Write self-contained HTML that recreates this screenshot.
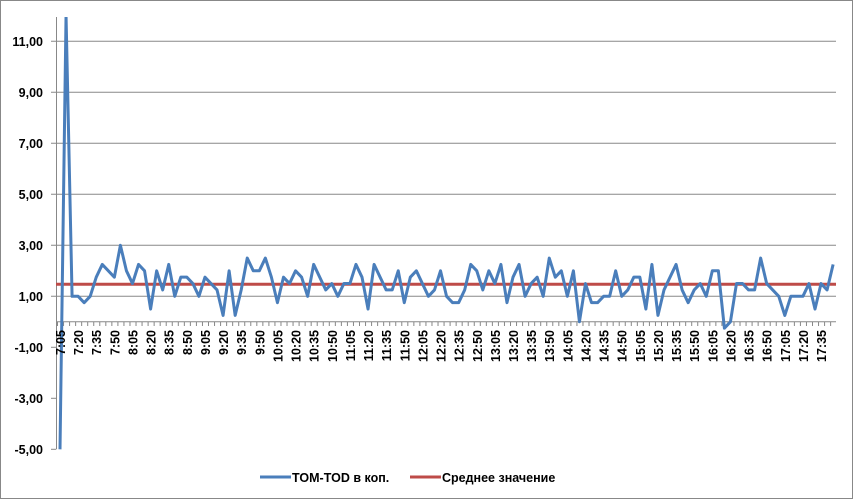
<!DOCTYPE html>
<html><head><meta charset="utf-8"><style>
body{margin:0;background:#fff}
svg{display:block}
text{font-family:"Liberation Sans",sans-serif;font-weight:bold;fill:#000}
</style></head><body>
<svg width="855" height="501" viewBox="0 0 855 501" xmlns="http://www.w3.org/2000/svg">
<rect x="0.5" y="0.5" width="852" height="498" fill="#fff" stroke="#888"/>
<defs><clipPath id="c"><rect x="56" y="17" width="782" height="440"/></clipPath></defs>
<g stroke="#888" stroke-width="1">
<line x1="51" y1="41.3" x2="836" y2="41.3"/>
<line x1="51" y1="92.3" x2="836" y2="92.3"/>
<line x1="51" y1="143.3" x2="836" y2="143.3"/>
<line x1="51" y1="194.3" x2="836" y2="194.3"/>
<line x1="51" y1="245.3" x2="836" y2="245.3"/>
<line x1="51" y1="296.3" x2="836" y2="296.3"/>
<line x1="51" y1="347.3" x2="56" y2="347.3"/>
<line x1="51" y1="398.3" x2="56" y2="398.3"/>
<line x1="51" y1="449.3" x2="56" y2="449.3"/>
<line x1="56.5" y1="17" x2="56.5" y2="449.3"/>
<line x1="56" y1="321.8" x2="836" y2="321.8"/>
<line x1="57" y1="324" x2="836" y2="324" stroke-width="4" stroke-dasharray="1 5.04"/>
</g>
<g font-size="12.5" text-anchor="end">
<text x="43" y="46">11,00</text>
<text x="43" y="97">9,00</text>
<text x="43" y="148">7,00</text>
<text x="43" y="199">5,00</text>
<text x="43" y="250">3,00</text>
<text x="43" y="301">1,00</text>
<text x="43" y="352">-1,00</text>
<text x="43" y="403">-3,00</text>
<text x="43" y="454">-5,00</text>
</g>
<line x1="56" y1="284.3" x2="836" y2="284.3" stroke="#be4b48" stroke-width="3"/>
<g clip-path="url(#c)">
<polyline fill="none" stroke="#4a7ebb" stroke-width="3" stroke-linejoin="round" vector-effect="non-scaling-stroke" transform="translate(60,321.8) scale(6.04,-25.5)" points="0,-5 1,12 2,1 3,1 4,.75 5,1 6,1.75 7,2.25 8,2 9,1.75 10,3 11,2 12,1.5 13,2.25 14,2 15,.5 16,2 17,1.25 18,2.25 19,1 20,1.75 21,1.75 22,1.5 23,1 24,1.75 25,1.5 26,1.25 27,.25 28,2 29,.25 30,1.25 31,2.5 32,2 33,2 34,2.5 35,1.75 36,.75 37,1.75 38,1.5 39,2 40,1.75 41,1 42,2.25 43,1.75 44,1.25 45,1.5 46,1 47,1.5 48,1.5 49,2.25 50,1.75 51,.5 52,2.25 53,1.75 54,1.25 55,1.25 56,2 57,.75 58,1.75 59,2 60,1.5 61,1 62,1.25 63,2 64,1 65,.75 66,.75 67,1.25 68,2.25 69,2 70,1.25 71,2 72,1.5 73,2.25 74,.75 75,1.75 76,2.25 77,1 78,1.5 79,1.75 80,1 81,2.5 82,1.75 83,2 84,1 85,2 86,0 87,1.5 88,.75 89,.75 90,1 91,1 92,2 93,1 94,1.25 95,1.75 96,1.75 97,.5 98,2.25 99,.25 100,1.25 101,1.75 102,2.25 103,1.25 104,.75 105,1.25 106,1.5 107,1 108,2 109,2 110,-.25 111,0 112,1.5 113,1.5 114,1.25 115,1.25 116,2.5 117,1.5 118,1.25 119,1 120,.25 121,1 122,1 123,1 124,1.5 125,.5 126,1.5 127,1.25 128,2.25"/>
</g>
<g font-size="12.5" text-anchor="end">
<text transform="translate(65,330) rotate(-90)">7:05</text>
<text transform="translate(83.1,330) rotate(-90)">7:20</text>
<text transform="translate(101.2,330) rotate(-90)">7:35</text>
<text transform="translate(119.4,330) rotate(-90)">7:50</text>
<text transform="translate(137.5,330) rotate(-90)">8:05</text>
<text transform="translate(155.6,330) rotate(-90)">8:20</text>
<text transform="translate(173.7,330) rotate(-90)">8:35</text>
<text transform="translate(191.8,330) rotate(-90)">8:50</text>
<text transform="translate(210,330) rotate(-90)">9:05</text>
<text transform="translate(228.1,330) rotate(-90)">9:20</text>
<text transform="translate(246.2,330) rotate(-90)">9:35</text>
<text transform="translate(264.3,330) rotate(-90)">9:50</text>
<text transform="translate(282.4,330) rotate(-90)">10:05</text>
<text transform="translate(300.6,330) rotate(-90)">10:20</text>
<text transform="translate(318.7,330) rotate(-90)">10:35</text>
<text transform="translate(336.8,330) rotate(-90)">10:50</text>
<text transform="translate(354.9,330) rotate(-90)">11:05</text>
<text transform="translate(373,330) rotate(-90)">11:20</text>
<text transform="translate(391.2,330) rotate(-90)">11:35</text>
<text transform="translate(409.3,330) rotate(-90)">11:50</text>
<text transform="translate(427.4,330) rotate(-90)">12:05</text>
<text transform="translate(445.5,330) rotate(-90)">12:20</text>
<text transform="translate(463.6,330) rotate(-90)">12:35</text>
<text transform="translate(481.8,330) rotate(-90)">12:50</text>
<text transform="translate(499.9,330) rotate(-90)">13:05</text>
<text transform="translate(518,330) rotate(-90)">13:20</text>
<text transform="translate(536.1,330) rotate(-90)">13:35</text>
<text transform="translate(554.2,330) rotate(-90)">13:50</text>
<text transform="translate(572.4,330) rotate(-90)">14:05</text>
<text transform="translate(590.5,330) rotate(-90)">14:20</text>
<text transform="translate(608.6,330) rotate(-90)">14:35</text>
<text transform="translate(626.7,330) rotate(-90)">14:50</text>
<text transform="translate(644.8,330) rotate(-90)">15:05</text>
<text transform="translate(663,330) rotate(-90)">15:20</text>
<text transform="translate(681.1,330) rotate(-90)">15:35</text>
<text transform="translate(699.2,330) rotate(-90)">15:50</text>
<text transform="translate(717.3,330) rotate(-90)">16:05</text>
<text transform="translate(735.4,330) rotate(-90)">16:20</text>
<text transform="translate(753.6,330) rotate(-90)">16:35</text>
<text transform="translate(771.7,330) rotate(-90)">16:50</text>
<text transform="translate(789.8,330) rotate(-90)">17:05</text>
<text transform="translate(807.9,330) rotate(-90)">17:20</text>
<text transform="translate(826,330) rotate(-90)">17:35</text>
</g>
<line x1="260" y1="477" x2="291" y2="477" stroke="#4a7ebb" stroke-width="3"/>
<text x="292" y="482" font-size="12.5">TOM-TOD в коп.</text>
<line x1="410" y1="477" x2="441" y2="477" stroke="#be4b48" stroke-width="3"/>
<text x="442" y="482" font-size="12.5">Среднее значение</text>
</svg>
</body></html>
